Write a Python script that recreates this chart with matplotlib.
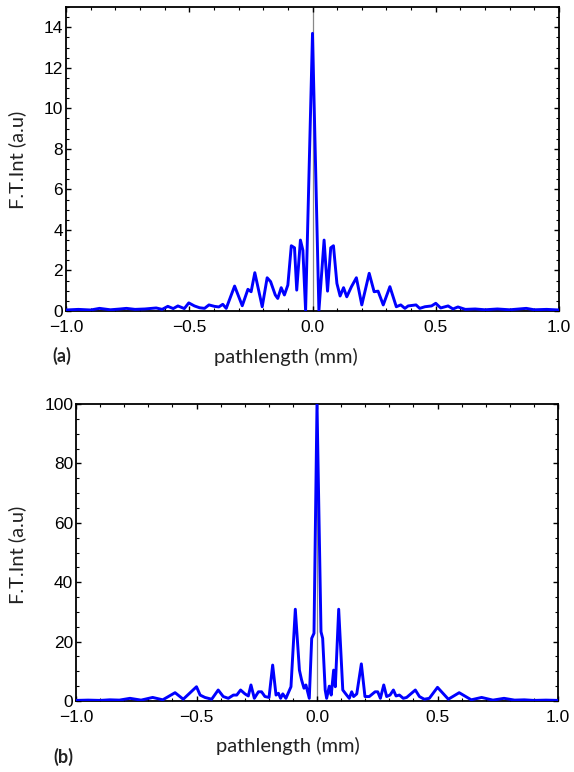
import matplotlib
matplotlib.use("Agg")
import matplotlib.pyplot as plt
from matplotlib.ticker import MultipleLocator

# panel (a): pathlength (mm) vs F.T. intensity
top_x = [-1.0, -0.95, -0.9, -0.864, -0.82, -0.78, -0.755, -0.72, -0.68, -0.634,
         -0.61, -0.587, -0.565, -0.546, -0.52, -0.502, -0.479, -0.458, -0.438, -0.42,
         -0.398, -0.38, -0.364, -0.35, -0.316, -0.285, -0.262, -0.249, -0.234, -0.204,
         -0.184, -0.170, -0.151, -0.141, -0.127, -0.114, -0.100, -0.086, -0.073, -0.064,
         -0.049, -0.039, -0.028, 0.0, 0.026, 0.047, 0.061, 0.074, 0.085, 0.099,
         0.112, 0.126, 0.139, 0.158, 0.178, 0.2, 0.23, 0.25, 0.266, 0.287,
         0.314, 0.34, 0.358, 0.375, 0.388, 0.42, 0.435, 0.456, 0.483, 0.5,
         0.52, 0.55, 0.57, 0.59, 0.62, 0.66, 0.70, 0.75, 0.80, 0.867,
         0.9, 0.95, 1.0]
top_y = [0.05, 0.08, 0.05, 0.13, 0.06, 0.1, 0.13, 0.08, 0.1, 0.15,
         0.08, 0.23, 0.12, 0.25, 0.12, 0.4, 0.25, 0.16, 0.13, 0.3,
         0.23, 0.2, 0.33, 0.13, 1.23, 0.26, 1.07, 0.95, 1.89, 0.21,
         1.64, 1.45, 0.79, 0.62, 1.15, 0.79, 1.28, 3.22, 3.12, 1.03,
         3.5, 3.0, 0.02, 13.7, 0.02, 3.5, 0.98, 3.12, 3.22, 1.36,
         0.74, 1.15, 0.7, 1.2, 1.64, 0.3, 1.86, 0.95, 0.98, 0.3,
         1.2, 0.21, 0.3, 0.13, 0.25, 0.3, 0.13, 0.21, 0.25, 0.38,
         0.15, 0.25, 0.1, 0.2, 0.08, 0.1, 0.06, 0.1, 0.06, 0.13,
         0.06, 0.08, 0.05]

# panel (b)
bot_x = [-1.0, -0.95, -0.9, -0.86, -0.82, -0.776, -0.73, -0.682, -0.64, -0.589,
         -0.555, -0.5, -0.485, -0.465, -0.437, -0.41, -0.389, -0.368, -0.347, -0.333,
         -0.317, -0.299, -0.285, -0.274, -0.26, -0.243, -0.23, -0.216, -0.199, -0.184,
         -0.17, -0.16, -0.151, -0.142, -0.129, -0.108, -0.09, -0.073, -0.064, -0.054,
         -0.046, -0.032, -0.022, -0.0125, 0.0, 0.0166, 0.0235, 0.034, 0.04, 0.051,
         0.059, 0.069, 0.076, 0.09, 0.107, 0.123, 0.134, 0.144, 0.152, 0.165,
         0.184, 0.199, 0.217, 0.241, 0.252, 0.263, 0.277, 0.289, 0.303, 0.317,
         0.328, 0.342, 0.358, 0.372, 0.408, 0.425, 0.445, 0.466, 0.5, 0.545,
         0.59, 0.64, 0.683, 0.73, 0.776, 0.82, 0.86, 0.9, 0.95, 1.0]
bot_y = [0.2, 0.3, 0.2, 0.4, 0.3, 0.9, 0.3, 1.2, 0.4, 2.8,
         0.6, 4.8, 2.0, 1.2, 0.6, 3.7, 1.5, 0.9, 2.0, 2.0,
         3.7, 2.4, 1.7, 5.4, 0.9, 3.1, 3.1, 1.5, 1.2, 12.1,
         2.0, 2.6, 0.9, 2.4, 0.9, 4.8, 30.9, 10.4, 7.1, 4.3,
         5.4, 0.9, 21.1, 22.8, 100, 23.3, 21.1, 3.7, 0.9, 5.0,
         2.0, 10.4, 4.8, 30.9, 3.7, 2.0, 0.9, 3.1, 1.5, 2.4,
         12.5, 1.5, 1.5, 3.1, 3.1, 0.9, 5.4, 1.5, 2.0, 3.7,
         1.7, 2.0, 0.9, 1.2, 3.7, 1.5, 0.6, 0.9, 4.6, 0.6,
         2.8, 0.4, 1.2, 0.3, 0.9, 0.3, 0.4, 0.2, 0.3, 0.2]

W, H = 574, 772
fig = plt.figure(figsize=(W / 100, H / 100), dpi=100)


def px_axes(left, top, right, bottom):
    return fig.add_axes([left / W, 1 - bottom / H, (right - left) / W, (bottom - top) / H])


def style(ax, ymax, ymajor, yminor):
    ax.set_xlim(-1.0, 1.0)
    ax.set_ylim(0, ymax)
    ax.xaxis.set_major_locator(MultipleLocator(0.5))
    ax.xaxis.set_minor_locator(MultipleLocator(0.1))
    ax.yaxis.set_major_locator(MultipleLocator(ymajor))
    ax.yaxis.set_minor_locator(MultipleLocator(yminor))
    ax.tick_params(which='both', direction='in', top=True, right=True)
    ax.tick_params(which='major', length=3.5, width=1.0, labelsize=12.5, pad=2)
    ax.tick_params(which='minor', length=2, width=0.8)
    ax.tick_params(axis='x', which='major', pad=6.5)
    for s in ax.spines.values():
        s.set_linewidth(1.3)
    for lab in ax.get_xticklabels() + ax.get_yticklabels():
        lab.set_fontfamily('Liberation Sans')
    ax.axvline(0, color='#888888', lw=0.9, zorder=1)


ax1 = px_axes(66, 7, 559, 311)
ax1.plot(top_x, top_y, color='#0000ff', lw=2.1, zorder=3)
style(ax1, 15, 2, 0.5)

ax2 = px_axes(76, 404, 558, 701)
ax2.plot(bot_x, bot_y, color='#0000ff', lw=2.1, zorder=3)
style(ax2, 100, 20, 5)

lab_font = dict(family='Lato', fontsize=14.5, color='#222222')
fig.text(286 / W, 1 - 357 / H, 'pathlength (mm)', ha='center', va='center', **lab_font)
fig.text(288 / W, 1 - 746 / H, 'pathlength (mm)', ha='center', va='center', **lab_font)
fig.text(17 / W, 1 - 160 / H, 'F.T.Int (a.u)', ha='center', va='center', rotation=90, **lab_font)
fig.text(17 / W, 1 - 555 / H, 'F.T.Int (a.u)', ha='center', va='center', rotation=90, **lab_font)
fig.text(62 / W, 1 - 356 / H, '(a)', ha='center', va='center', family='Lato',
         fontsize=13, fontweight='bold', color='#222222')
fig.text(63 / W, 1 - 757 / H, '(b)', ha='center', va='center', family='Lato',
         fontsize=13, fontweight='bold', color='#222222')

fig.savefig('out.png', dpi=100)
